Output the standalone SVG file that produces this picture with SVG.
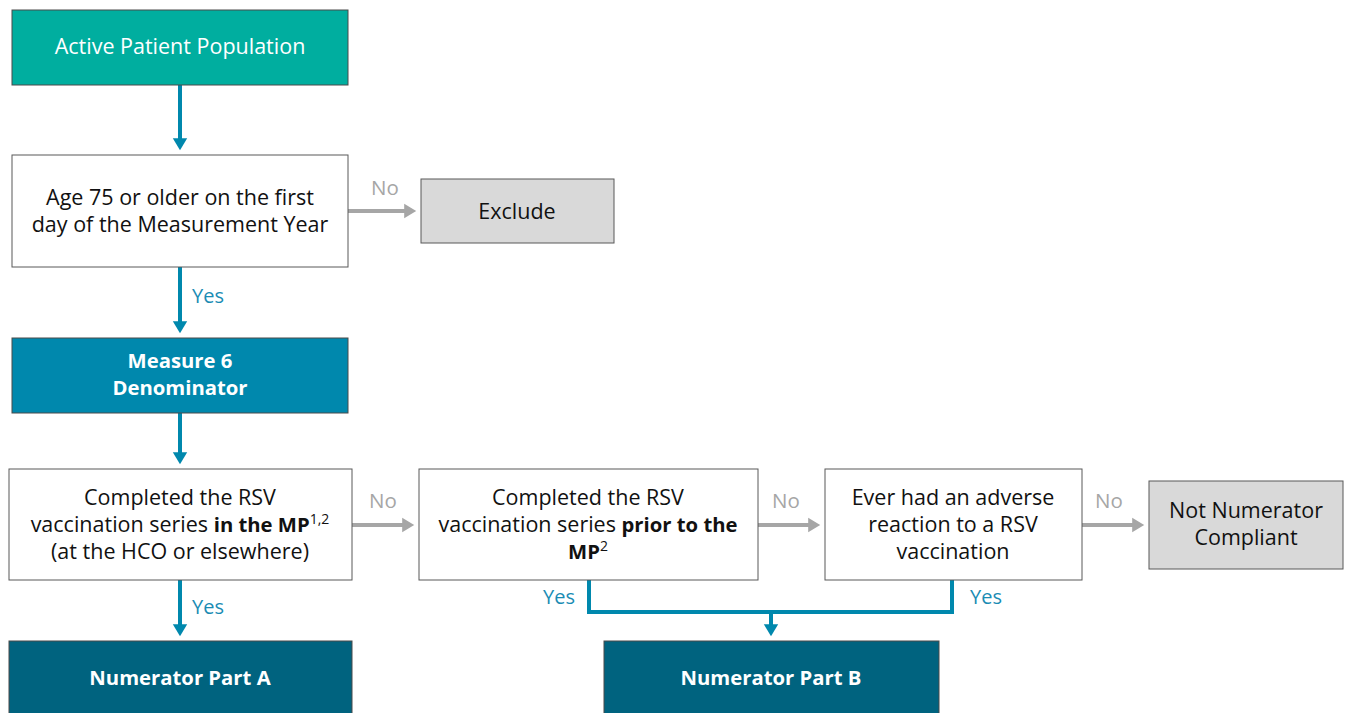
<svg xmlns="http://www.w3.org/2000/svg" width="1346" height="713" viewBox="0 0 1346 713">
<style>
text{font-family:"Open Sans","Noto Sans",sans-serif;font-size:21.5px;text-anchor:middle}
.box{fill:#fff;stroke:#595959;stroke-width:1}
.grey{fill:#D9D9D9;stroke:#595959;stroke-width:1}
.dk{fill:#111}
.wt{fill:#fff}
.b{font-weight:bold;font-size:20.3px}
.blue{stroke:#0088AD;stroke-width:4;fill:none}
.gray{stroke:#A6A6A6;stroke-width:4;fill:none}
.ly{fill:#1A8CB4;text-anchor:start;font-size:20px}
.ln{fill:#A6A6A6;text-anchor:start;font-size:20.5px}
</style>
<defs>
<marker id="ab" markerWidth="4" markerHeight="4" refX="2.2" refY="2" orient="auto" markerUnits="strokeWidth"><path d="M0,0.2 L3,2 L0,3.8 z" fill="#0088AD"/></marker>
<marker id="ag" markerWidth="4" markerHeight="4" refX="2.2" refY="2" orient="auto" markerUnits="strokeWidth"><path d="M0,0.2 L3,2 L0,3.8 z" fill="#A6A6A6"/></marker>
</defs>
<g id="connectors">
<line class="blue" x1="180" y1="85" x2="180" y2="147" marker-end="url(#ab)"/>
<line class="gray" x1="348" y1="211" x2="413" y2="211" marker-end="url(#ag)"/>
<line class="blue" x1="180" y1="267" x2="180" y2="330" marker-end="url(#ab)"/>
<line class="blue" x1="180" y1="413" x2="180" y2="461" marker-end="url(#ab)"/>
<line class="gray" x1="352" y1="525" x2="411" y2="525" marker-end="url(#ag)"/>
<line class="gray" x1="758" y1="525" x2="817" y2="525" marker-end="url(#ag)"/>
<line class="gray" x1="1082" y1="525" x2="1141" y2="525" marker-end="url(#ag)"/>
<line class="blue" x1="180" y1="580" x2="180" y2="633" marker-end="url(#ab)"/>
<path class="blue" d="M589,580 V612 H952 V580"/>
<line class="blue" x1="771" y1="612" x2="771" y2="633" marker-end="url(#ab)"/>
<text class="ln" x="371" y="195">No</text>
<text class="ly" x="192" y="303">Yes</text>
<text class="ln" x="369" y="508">No</text>
<text class="ln" x="772" y="508">No</text>
<text class="ln" x="1095" y="508">No</text>
<text class="ly" x="192" y="614">Yes</text>
<text class="ly" x="543" y="604">Yes</text>
<text class="ly" x="970" y="604">Yes</text>
</g>
<g id="active">
<rect x="12" y="10" width="336" height="75" fill="#00AE9F" stroke="#4a4a4a" stroke-width="1"/>
<text class="wt" x="180" y="54">Active Patient Population</text>
</g>
<g id="age">
<rect class="box" x="12" y="155" width="336" height="112"/>
<text class="dk" x="180" y="205">Age 75 or older on the first</text>
<text class="dk" x="180" y="232">day of the Measurement Year</text>
</g>
<g id="exclude">
<rect class="grey" x="421" y="179" width="193" height="64"/>
<text class="dk" x="517" y="219">Exclude</text>
</g>
<g id="denom">
<rect x="12" y="338" width="336" height="75" fill="#0088AD" stroke="#4a4a4a" stroke-width="1"/>
<text class="wt b" x="180" y="368">Measure 6</text>
<text class="wt b" x="180" y="395">Denominator</text>
</g>
<g id="inmp">
<rect class="box" x="9" y="469" width="343" height="111"/>
<text class="dk" x="180" y="505">Completed the RSV</text>
<text class="dk" x="180" y="532">vaccination series <tspan class="b" font-size="21.5">in the MP</tspan><tspan font-size="14" dy="-8">1,2</tspan></text>
<text class="dk" x="180" y="559">(at the HCO or elsewhere)</text>
</g>
<g id="prior">
<rect class="box" x="419" y="469" width="339" height="111"/>
<text class="dk" x="588" y="505">Completed the RSV</text>
<text class="dk" x="588" y="532">vaccination series <tspan class="b" font-size="21.5">prior to the</tspan></text>
<text class="dk" x="588" y="559"><tspan class="b" font-size="21.5">MP</tspan><tspan font-size="14" dy="-8">2</tspan></text>
</g>
<g id="adverse">
<rect class="box" x="825" y="469" width="257" height="111"/>
<text class="dk" x="953" y="505">Ever had an adverse</text>
<text class="dk" x="953" y="532">reaction to a RSV</text>
<text class="dk" x="953" y="559">vaccination</text>
</g>
<g id="notcomp">
<rect class="grey" x="1149" y="481" width="194" height="88"/>
<text class="dk" x="1246" y="518">Not Numerator</text>
<text class="dk" x="1246" y="545">Compliant</text>
</g>
<g id="partA">
<rect x="9" y="641" width="343" height="80" fill="#00637F" stroke="#4a4a4a" stroke-width="1"/>
<text class="wt b" x="180" y="685">Numerator Part A</text>
</g>
<g id="partB">
<rect x="604" y="641" width="335" height="80" fill="#00637F" stroke="#4a4a4a" stroke-width="1"/>
<text class="wt b" x="771" y="685">Numerator Part B</text>
</g>
</svg>
